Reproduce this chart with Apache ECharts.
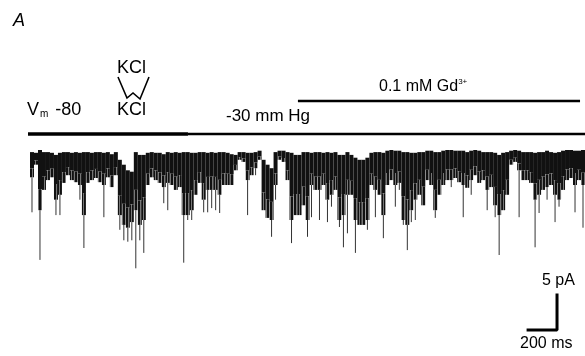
<!DOCTYPE html>
<html>
<head>
	<meta charset="utf-8">
	<title>Single channel trace</title>
	<script src="https://cdn.jsdelivr.net/npm/echarts@6/dist/echarts.min.js"></script>
	<style>
		html,body{margin:0;padding:0;background:#fff;}
		#trace{width:585px;height:356px;}
	</style>
</head>
<body>
<div id="trace"></div>
<script>
// one column of the recording every sampleMs: closed level, dense band, deepest opening (pA)
var sampleMs = 27.6;
var closedPA = [-0.3,-0.4,0.0,-0.3,-0.3,-0.4,-0.7,-0.4,-0.3,-0.3,
    -0.4,-0.3,-0.4,-0.3,-0.3,-0.4,-0.3,-0.3,-0.4,-0.3,
    -0.6,-0.3,-1.4,-2.1,-2.9,-3.1,-0.3,-0.7,-0.7,-0.4,
    -0.3,-0.4,-0.4,-0.6,-0.3,-0.4,-0.3,-0.4,-0.3,-0.3,
    -0.4,-0.4,-0.3,-0.3,-0.4,-0.3,-0.4,-0.3,-0.3,-0.4,
    -0.6,-0.7,-0.3,-0.3,-0.4,-0.4,-0.3,-0.1,-1.4,-2.1,
    -2.6,-0.3,-0.1,-0.1,-0.3,-0.4,-0.7,-0.7,-0.3,-0.3,
    -0.4,-0.3,-0.3,-0.4,-0.3,-0.4,-0.3,-0.7,-0.7,-0.3,
    -0.7,-1.1,-1.4,-1.4,-1.1,-0.4,-0.3,-0.3,-0.4,-0.1,
    0.0,-0.1,-0.1,-0.3,-0.3,-0.4,-0.4,-0.3,-0.3,-0.1,
    -0.1,-0.3,-0.3,-0.1,0.0,0.0,-0.1,-0.1,-0.1,-0.3,
    -0.1,0.0,-0.1,-0.3,-0.3,-0.3,-0.4,-0.7,-0.4,-0.3,
    -0.1,0.0,-0.1,-0.3,-0.3,-0.3,-0.4,-0.3,-0.3,-0.1,
    -0.3,-0.4,-0.3,-0.1,0.0,0.0,-0.1,-0.1,0.0];
var bandPA = [-3.9,-2.1,-8.6,-5.7,-4.3,-3.9,-7.1,-6.4,-4.7,-3.6,
    -4.3,-4.6,-5.0,-9.3,-4.7,-4.3,-4.0,-4.6,-5.0,-3.9,
    -5.3,-3.6,-9.3,-10.7,-11.1,-10.3,-8.6,-10.7,-10.0,-5.0,
    -3.9,-4.3,-4.7,-5.3,-4.7,-5.0,-5.7,-5.3,-9.3,-9.3,
    -8.6,-6.4,-4.7,-7.1,-5.7,-5.7,-5.7,-6.4,-5.0,-5.0,
    -5.0,-2.9,-1.4,-1.7,-4.3,-3.6,-2.6,-1.4,-8.6,-9.7,
    -10.0,-5.0,-1.4,-1.7,-4.3,-10.0,-9.3,-9.3,-7.9,-10.0,
    -5.0,-5.7,-5.7,-5.0,-7.1,-6.4,-5.7,-10.0,-9.3,-6.4,
    -6.4,-10.0,-10.7,-10.7,-10.0,-5.0,-5.7,-6.4,-9.3,-5.0,
    -4.3,-5.0,-4.7,-10.0,-10.7,-8.6,-7.1,-6.4,-7.9,-4.3,
    -5.0,-8.6,-6.4,-5.0,-4.3,-4.3,-4.0,-4.6,-5.0,-5.4,
    -4.3,-3.6,-4.7,-4.3,-5.7,-5.3,-7.9,-9.3,-8.6,-6.4,
    -2.1,-1.7,-2.9,-4.3,-4.3,-4.7,-7.1,-6.4,-5.7,-5.3,
    -5.0,-6.4,-7.1,-5.7,-4.3,-4.0,-5.0,-4.3,-5.0];
var peakPA = [-8.9,-2.1,-15.7,-5.7,-4.3,-3.9,-9.3,-9.3,-4.7,-3.6,
    -4.3,-4.6,-7.1,-14.0,-4.7,-4.3,-4.0,-4.6,-9.6,-3.9,
    -5.3,-3.6,-11.4,-12.9,-13.1,-12.9,-16.9,-12.9,-14.7,-5.0,
    -3.9,-4.3,-4.7,-7.6,-8.6,-5.0,-5.7,-5.3,-16.1,-10.0,
    -10.0,-6.4,-4.7,-8.9,-8.9,-8.3,-8.6,-9.0,-5.0,-5.0,
    -5.0,-2.9,-1.4,-1.7,-9.3,-3.6,-3.6,-1.4,-8.6,-9.7,
    -12.4,-7.1,-1.4,-1.7,-4.3,-13.3,-9.3,-9.3,-7.9,-12.4,
    -9.6,-5.7,-10.0,-5.0,-10.3,-8.1,-5.7,-11.0,-13.9,-11.9,
    -6.4,-14.7,-10.7,-10.7,-11.4,-5.0,-9.6,-6.4,-12.6,-5.0,
    -4.3,-8.1,-5.7,-10.7,-14.3,-10.3,-10.0,-6.4,-7.9,-4.3,
    -5.0,-9.7,-6.4,-5.0,-4.3,-5.3,-4.0,-4.6,-9.6,-5.4,
    -6.4,-3.6,-4.7,-4.3,-8.6,-5.3,-9.6,-15.0,-8.6,-6.4,
    -2.1,-1.7,-9.6,-4.3,-4.3,-4.7,-13.9,-9.0,-5.7,-7.1,
    -5.0,-10.3,-8.1,-5.7,-4.3,-4.0,-8.9,-4.3,-11.1];

// protocol (ms from start of trace)
var pressureOnMs = 1092;
var gdOnMs = 1852;
var gdOffMs = 3802;
// scale bar
var scaleMs = 200;
var scalePA = 5;
var scaleCorner = [3643, -25.7];

var traceData = closedPA.map(function (v, i) {
    return [i * sampleMs + sampleMs / 2, v, bandPA[i], peakPA[i]];
});
var totalMs = closedPA.length * sampleMs;

// vertical hatch for the lower, less dense part of the band
var hatch = document.createElement('canvas');
hatch.width = 3; hatch.height = 1;
var hctx = hatch.getContext('2d');
hctx.fillStyle = '#777';
hctx.fillRect(0, 0, 3, 1);
hctx.fillStyle = '#111';
hctx.fillRect(0, 0, 2, 1);

var chart = echarts.init(document.getElementById('trace'));
var font = '"Liberation Sans", Arial, sans-serif';

chart.setOption({
    animation: false,
    grid: {left: 30, right: 0, top: 136, height: 196},
    xAxis: {type: 'value', min: 0, max: totalMs, show: false},
    yAxis: {type: 'value', min: -26, max: 2, show: false},
    series: [{
        type: 'custom',
        data: traceData,
        clip: false,
        renderItem: function (params, api) {
            var t = api.value(0);
            var top = api.value(1), band = api.value(2);
            var a = api.coord([t - sampleMs / 2, top]);
            var m = api.coord([t, top + (band - top) * 0.65]);
            var b = api.coord([t + sampleMs / 2, band]);
            var c = api.coord([t, api.value(3)]);
            return {
                type: 'group',
                children: [{
                    type: 'rect',
                    shape: {x: a[0], y: a[1], width: b[0] - a[0], height: m[1] - a[1]},
                    style: {fill: '#111'}
                }, {
                    type: 'rect',
                    shape: {x: a[0], y: m[1], width: b[0] - a[0], height: b[1] - m[1]},
                    style: {fill: {image: hatch, repeat: 'repeat'}}
                }, {
                    type: 'line',
                    shape: {x1: c[0], y1: b[1], x2: c[0], y2: c[1]},
                    style: {stroke: '#333', lineWidth: 1}
                }]
            };
        }
    }, {
        type: 'line',
        symbol: 'none',
        clip: false,
        lineStyle: {color: '#000', width: 3, cap: 'square'},
        data: [[scaleCorner[0] - scaleMs, scaleCorner[1]], scaleCorner,
               [scaleCorner[0], scaleCorner[1] + scalePA]]
    }]
});

// protocol bars and labels
var xOf = function (t) { return chart.convertToPixel({gridIndex: 0}, [t, 0])[0]; };
var x0 = xOf(0) - 2, xP = xOf(pressureOnMs), xG = xOf(gdOnMs), xG2 = xOf(gdOffMs);
var W = chart.getWidth();
chart.setOption({
    graphic: [
        {type: 'line', shape: {x1: x0, y1: 134, x2: xP, y2: 134}, style: {stroke: '#000', lineWidth: 3.5}},
        {type: 'line', shape: {x1: xP, y1: 134, x2: W, y2: 134}, style: {stroke: '#000', lineWidth: 2.5}},
        {type: 'line', shape: {x1: xG, y1: 101, x2: xG2, y2: 101}, style: {stroke: '#000', lineWidth: 2.5}},
        {type: 'polyline', shape: {points: [[118, 77], [127, 98], [133, 93], [140, 99], [149, 77]]},
            style: {stroke: '#000', lineWidth: 1.6, fill: null}},
        {type: 'text', left: 13, top: 12, style: {text: 'A', font: 'italic 18px ' + font, fill: '#000'}},
        {type: 'text', left: 117, top: 59, style: {text: 'KCl', font: '18px ' + font, fill: '#000'}},
        {type: 'text', left: 117, top: 101, style: {text: 'KCl', font: '18px ' + font, fill: '#000'}},
        {type: 'text', left: 27, top: 101, style: {
            text: '{v|V}{s|m}{v| -80}', fill: '#000',
            rich: {v: {fontSize: 18, fontFamily: font}, s: {fontSize: 10, fontFamily: font, padding: [9, 2, 0, 1]}}
        }},
        {type: 'text', left: 226, top: 108, style: {text: '-30 mm Hg', font: '17px ' + font, fill: '#000'}},
        {type: 'text', left: 379, top: 78, style: {
            text: '{v|0.1 mM Gd}{s|3+}', fill: '#000',
            rich: {v: {fontSize: 16, fontFamily: font}, s: {fontSize: 8, fontFamily: font, padding: [0, 0, 9, 0]}}
        }},
        {type: 'text', left: 542, top: 273, style: {text: '5 pA', font: '16px ' + font, fill: '#000'}},
        {type: 'text', left: 520, top: 336, style: {text: '200 ms', font: '16px ' + font, fill: '#000'}}
    ]
});
</script>
</body>
</html>
